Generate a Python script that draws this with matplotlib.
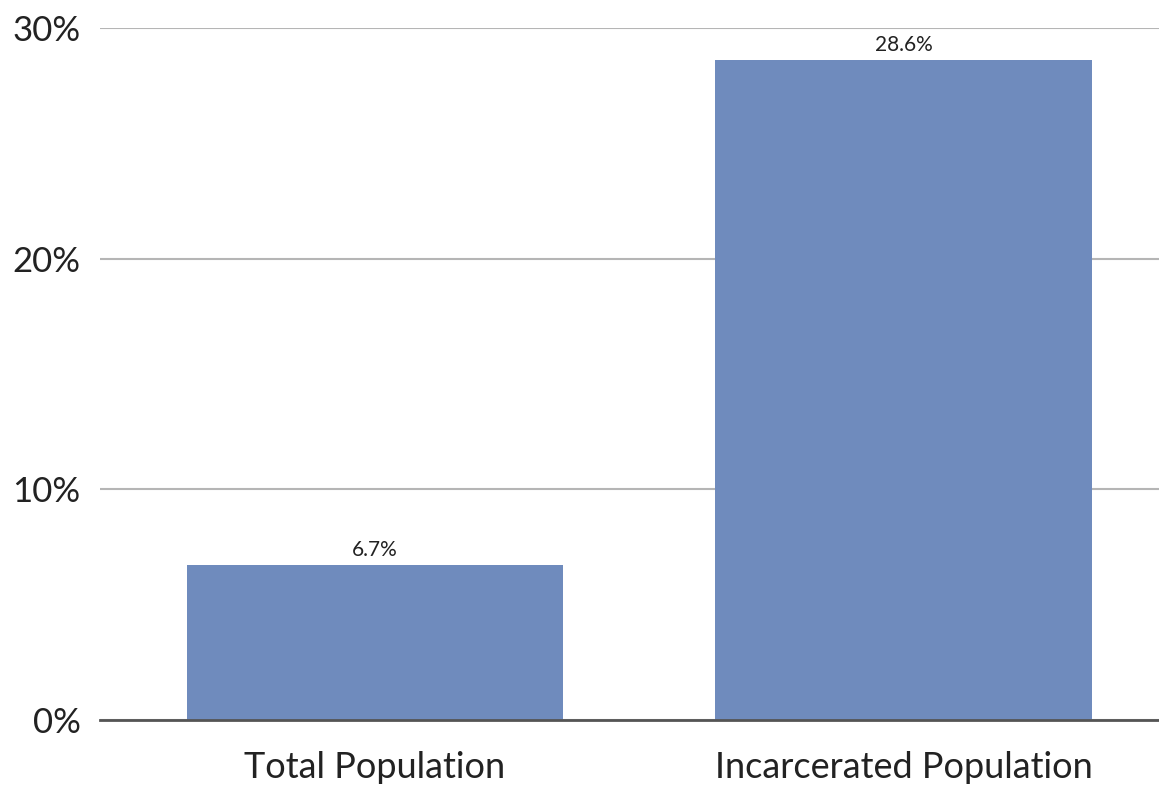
import matplotlib.pyplot as plt

categories = ["Total Population", "Incarcerated Population"]
values = [6.7, 28.6]
value_labels = ["6.7%", "28.6%"]
yticks = [0, 10, 20, 30]
ytick_labels = ["0%", "10%", "20%", "30%"]

plt.rcParams['font.family'] = ['Lato', 'DejaVu Sans']

fig = plt.figure(figsize=(11.59, 7.89), dpi=100)
ax = fig.add_axes([100 / 1159, 69 / 789, 1059 / 1159, 692 / 789])

x = range(len(categories))
bars = ax.bar(x, values, width=0.712, color="#6f8bbd", zorder=2)

for b, lab in zip(bars, value_labels):
    ax.text(b.get_x() + b.get_width() / 2, b.get_height() + 0.25, lab,
            ha="center", va="bottom", fontsize=15, color="#222222")

ax.set_xlim(-0.52, 1.483)
ax.set_ylim(0, 30)
ax.set_yticks(yticks)
ax.set_yticklabels(ytick_labels, fontsize=25)
ax.set_xticks(list(x))
ax.set_xticklabels(categories, fontsize=26)
ax.tick_params(axis="both", length=0, colors="#222222")
ax.tick_params(axis="y", pad=14)
ax.tick_params(axis="x", pad=22)

ax.grid(axis="y", color="#b5b5b5", linewidth=1.5, zorder=0)
for s in ["top", "right", "left"]:
    ax.spines[s].set_visible(False)
ax.spines["bottom"].set_color("#555555")
ax.spines["bottom"].set_linewidth(2)
ax.spines["bottom"].set_zorder(3)

fig.savefig("out.png", dpi=100)
